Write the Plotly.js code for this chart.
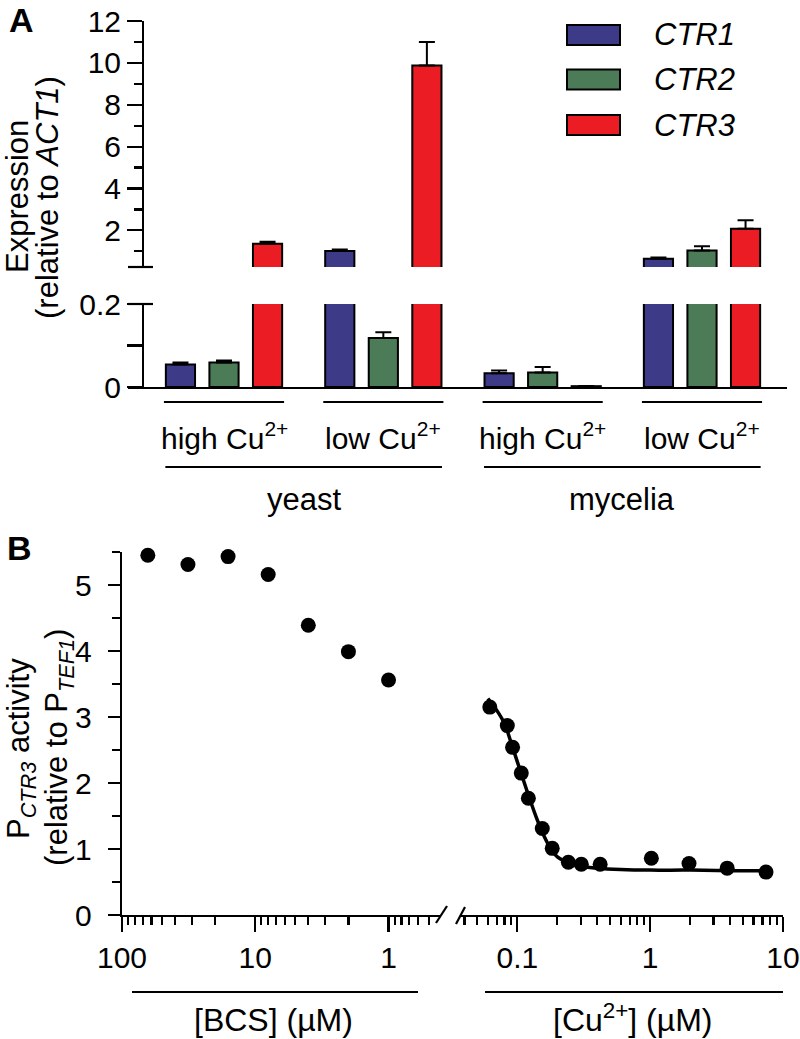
<!DOCTYPE html>
<html>
<head>
<meta charset="utf-8">
<script src="https://cdn.plot.ly/plotly-3.0.1.min.js"></script>
<style>html,body{margin:0;padding:0;background:#fff;}#chart{width:800px;height:1039px;}</style>
</head>
<body>
<div id="chart"></div>
<script>
// ---------- Panel A data ----------
const conditions = ['yeast high', 'yeast low', 'mycelia high', 'mycelia low'];
const conditionLabels = ['high Cu<sup>2+</sup>', 'low Cu<sup>2+</sup>', 'high Cu<sup>2+</sup>', 'low Cu<sup>2+</sup>'];
const cellTypes = ['yeast', 'mycelia'];
const geneNames = ['CTR1', 'CTR2', 'CTR3'];
const geneColors = ['#3d3b87', '#4b7b57', '#ec1c24'];
const ctr1 = [0.054, 1.01, 0.033, 0.65];
const ctr1Err = [0.005, 0.08, 0.007, 0.05];
const ctr2 = [0.059, 0.118, 0.035, 1.04];
const ctr2Err = [0.005, 0.014, 0.013, 0.2];
const ctr3 = [1.36, 9.87, 0.002, 2.08];
const ctr3Err = [0.1, 1.13, 0.0005, 0.4];
const lowTicks = [0, 0.2];
const lowTickText = ['0', '0.2'];
const lowMinorTicks = [0.1];

// ---------- Panel B data ----------
const bcsConc = [64, 32, 16, 8, 4, 2, 1];
const bcsActivity = [5.45, 5.31, 5.43, 5.16, 4.39, 3.99, 3.56];
const cuConc = [0.062, 0.084, 0.092, 0.107, 0.121, 0.154, 0.183, 0.242, 0.303, 0.42, 1.02, 1.96, 3.8, 7.45];
const cuActivity = [3.15, 2.87, 2.54, 2.15, 1.77, 1.31, 1.01, 0.80, 0.77, 0.77, 0.86, 0.78, 0.71, 0.65];
const fitConc = [0.06, 0.07, 0.08, 0.09, 0.1, 0.12, 0.14, 0.16, 0.18, 0.2, 0.25, 0.3, 0.4, 0.6, 1, 2, 4, 7.5];
const fitActivity = [3.28, 3.1, 2.9, 2.6, 2.32, 1.84, 1.46, 1.18, 0.99, 0.88, 0.78, 0.74, 0.71, 0.69, 0.68, 0.68, 0.67, 0.67];
const bcsTicks = [100, 10, 1];
const bcsTickText = ['100', '10', '1'];
const bcsMinorTicks = [90, 80, 70, 60, 50, 40, 30, 20, 9, 8, 7, 6, 5, 4, 3, 2, 0.9, 0.8, 0.7, 0.6, 0.5];
const cuTicks = [0.1, 1, 10];
const cuTickText = ['0.1', '1', '10'];
const cuMinorTicks = [0.04, 0.05, 0.06, 0.07, 0.08, 0.09, 0.2, 0.3, 0.4, 0.5, 0.6, 0.7, 0.8, 0.9, 2, 3, 4, 5, 6, 7, 8, 9];

// ---------- helpers ----------
const W = 800, H = 1039;
const px = v => v / W;
const py = v => 1 - v / H;
const FONT = 'Liberation Sans, Arial, Helvetica, sans-serif';
const LW = 2.2;

const series = [ctr1, ctr2, ctr3];
const errs = [ctr1Err, ctr2Err, ctr3Err];

const traces = [];
['y', 'y2'].forEach(ya => {
  series.forEach((vals, i) => {
    traces.push({
      type: 'bar', x: conditions, y: vals, xaxis: 'x', yaxis: ya,
      name: geneNames[i], showlegend: false,
      marker: {color: geneColors[i], line: {color: '#000', width: 2}},
      error_y: {type: 'data', symmetric: false, array: errs[i], arrayminus: vals.map(() => 0),
                color: '#000', thickness: 2, width: 8}
    });
  });
});

traces.push({
  type: 'scatter', mode: 'markers', x: bcsConc, y: bcsActivity, xaxis: 'x3', yaxis: 'y3',
  marker: {color: '#000', size: 15}, showlegend: false, cliponaxis: false
});
traces.push({
  type: 'scatter', mode: 'lines', x: fitConc, y: fitActivity, xaxis: 'x4', yaxis: 'y3',
  line: {color: '#000', width: 3.5, shape: 'spline'}, showlegend: false, cliponaxis: false
});
traces.push({
  type: 'scatter', mode: 'markers', x: cuConc, y: cuActivity, xaxis: 'x4', yaxis: 'y3',
  marker: {color: '#000', size: 15}, showlegend: false, cliponaxis: false
});

const tickFont = {family: FONT, size: 30, color: '#000'};

const layout = {
  width: W, height: H,
  margin: {l: 0, r: 0, t: 0, b: 0},
  paper_bgcolor: '#fff', plot_bgcolor: 'rgba(0,0,0,0)',
  barmode: 'group', bargap: 0.18, bargroupgap: 0.33,
  showlegend: false,
  font: {family: FONT, color: '#000'},
  xaxis: {
    domain: [px(128), px(787)], anchor: 'y', type: 'category',
    range: [-0.6025, 3.5335], showline: true, linecolor: '#000', linewidth: LW,
    ticks: '', showticklabels: false, showgrid: false, zeroline: false, fixedrange: true
  },
  yaxis: {
    domain: [py(387), py(304)], anchor: 'free', position: px(143),
    range: [0, 0.2], tickmode: 'array', tickvals: lowTicks, ticktext: lowTickText,
    ticks: 'outside', ticklen: 15, tickwidth: LW, tickcolor: '#000',
    minor: {tickmode: 'array', tickvals: lowMinorTicks, ticks: 'outside', ticklen: 15, tickwidth: LW, tickcolor: '#000', showgrid: false},
    showline: true, linecolor: '#000', linewidth: LW, showgrid: false, zeroline: false,
    tickfont: tickFont, automargin: false
  },
  yaxis2: {
    domain: [py(267), py(21)], anchor: 'free', position: px(143),
    range: [0.25, 12], tickmode: 'linear', tick0: 0, dtick: 2,
    ticks: 'outside', ticklen: 15, tickwidth: LW, tickcolor: '#000',
    minor: {dtick: 1, tick0: 0, ticks: 'outside', ticklen: 8, tickwidth: LW, tickcolor: '#000', showgrid: false},
    showline: true, linecolor: '#000', linewidth: LW, showgrid: false, zeroline: false,
    tickfont: tickFont, automargin: false
  },
  xaxis3: {
    domain: [px(122), px(440)], anchor: 'y3', type: 'log',
    range: [2, Math.log10(0.411)],
    tickmode: 'array', tickvals: bcsTicks, ticktext: bcsTickText,
    ticks: 'outside', ticklen: 15, tickwidth: LW, tickcolor: '#000',
    minor: {tickmode: 'array', tickvals: bcsMinorTicks, ticks: 'outside', ticklen: 8, tickwidth: LW, tickcolor: '#000', showgrid: false},
    showline: true, linecolor: '#000', linewidth: LW, showgrid: false, zeroline: false,
    tickfont: tickFont, automargin: false
  },
  xaxis4: {
    domain: [px(460), px(783)], anchor: 'y3', type: 'log',
    range: [-1.432, 1],
    tickmode: 'array', tickvals: cuTicks, ticktext: cuTickText,
    ticks: 'outside', ticklen: 15, tickwidth: LW, tickcolor: '#000',
    minor: {tickmode: 'array', tickvals: cuMinorTicks, ticks: 'outside', ticklen: 8, tickwidth: LW, tickcolor: '#000', showgrid: false},
    showline: true, linecolor: '#000', linewidth: LW, showgrid: false, zeroline: false,
    tickfont: tickFont, automargin: false
  },
  yaxis3: {
    domain: [py(915), py(552)], anchor: 'x3',
    range: [0, 5.5], tickmode: 'linear', tick0: 0, dtick: 1,
    ticks: 'outside', ticklen: 12, tickwidth: LW, tickcolor: '#000', ticklabelstandoff: 10,
    minor: {dtick: 0.5, tick0: 0, ticks: 'outside', ticklen: 8, tickwidth: LW, tickcolor: '#000', showgrid: false},
    showline: true, linecolor: '#000', linewidth: LW, showgrid: false, zeroline: false,
    tickfont: tickFont, automargin: false
  },
  shapes: [],
  annotations: []
};

const S = layout.shapes, A = layout.annotations;
const line = (x0, y0, x1, y1, xref) => S.push({type: 'line', xref: xref || 'paper', yref: 'paper',
  x0: x0, y0: y0, x1: x1, y1: y1, line: {color: '#000', width: LW}});

// axis break marks panel A
line(px(128), py(267), px(153), py(267));
line(px(128), py(304), px(153), py(304));

// group bracket lines panel A
conditions.forEach((c, i) => line(i - 0.377, py(402), i + 0.377, py(402), 'x'));
cellTypes.forEach((c, k) => line(2 * k + 0.5 - 0.868, py(467), 2 * k + 0.5 + 0.868, py(467), 'x'));

conditionLabels.forEach((t, i) => A.push({text: t, x: i, xref: 'x', y: py(436), yref: 'paper',
  xanchor: 'center', yanchor: 'middle', showarrow: false, font: {family: FONT, size: 30, color: '#000'}}));
cellTypes.forEach((t, k) => A.push({text: t, x: 2 * k + 0.5, xref: 'x', y: py(499), yref: 'paper',
  xanchor: 'center', yanchor: 'middle', showarrow: false, font: {family: FONT, size: 31, color: '#000'}}));

// legend (drawn manually, wide swatches)
const legendY = [35, 79.5, 125];
geneNames.forEach((g, i) => {
  S.push({type: 'rect', xref: 'paper', yref: 'paper', x0: px(567), x1: px(620),
    y0: py(legendY[i] - 10), y1: py(legendY[i] + 10), fillcolor: geneColors[i], line: {color: '#000', width: 2}});
  A.push({text: '<i>' + g + '</i>', x: px(652), y: py(legendY[i]), xref: 'paper', yref: 'paper',
    xanchor: 'left', yanchor: 'middle', showarrow: false, font: {family: FONT, size: 31, color: '#000'}});
});

// panel A y title
A.push({text: 'Expression', x: px(18), y: py(197), xref: 'paper', yref: 'paper', textangle: -90,
  xanchor: 'center', yanchor: 'middle', showarrow: false, font: {family: FONT, size: 31, color: '#000'}});
A.push({text: '(relative to <i>ACT1</i>)', x: px(48), y: py(198), xref: 'paper', yref: 'paper', textangle: -90,
  xanchor: 'center', yanchor: 'middle', showarrow: false, font: {family: FONT, size: 31, color: '#000'}});

// panel labels
A.push({text: '<b>A</b>', x: px(21), y: py(20), xref: 'paper', yref: 'paper', xanchor: 'center', yanchor: 'middle',
  showarrow: false, font: {family: FONT, size: 34, color: '#000'}});
A.push({text: '<b>B</b>', x: px(19), y: py(548), xref: 'paper', yref: 'paper', xanchor: 'center', yanchor: 'middle',
  showarrow: false, font: {family: FONT, size: 34, color: '#000'}});

// panel B y title
A.push({text: 'P<sub><i>CTR3</i></sub> activity', x: px(21), y: py(749), xref: 'paper', yref: 'paper', textangle: -90,
  xanchor: 'center', yanchor: 'middle', showarrow: false, font: {family: FONT, size: 31, color: '#000'}});
A.push({text: '(relative to P<sub><i>TEF1</i></sub>)', x: px(59), y: py(748), xref: 'paper', yref: 'paper', textangle: -90,
  xanchor: 'center', yanchor: 'middle', showarrow: false, font: {family: FONT, size: 31, color: '#000'}});

// panel B axis break slashes
line(px(436), py(923), px(447), py(906));
line(px(456), py(924), px(465), py(907));

// panel B axis group lines and titles
line(px(132), py(992), px(418), py(992));
line(px(485), py(992), px(783), py(992));
A.push({text: '[BCS] (µM)', x: px(273), y: py(1020), xref: 'paper', yref: 'paper', xanchor: 'center', yanchor: 'middle',
  showarrow: false, font: {family: FONT, size: 32, color: '#000'}});
A.push({text: '[Cu<sup>2+</sup>] (µM)', x: px(633), y: py(1018), xref: 'paper', yref: 'paper', xanchor: 'center', yanchor: 'middle',
  showarrow: false, font: {family: FONT, size: 32, color: '#000'}});

Plotly.newPlot('chart', traces, layout, {staticPlot: true, displayModeBar: false});
</script>
</body>
</html>
